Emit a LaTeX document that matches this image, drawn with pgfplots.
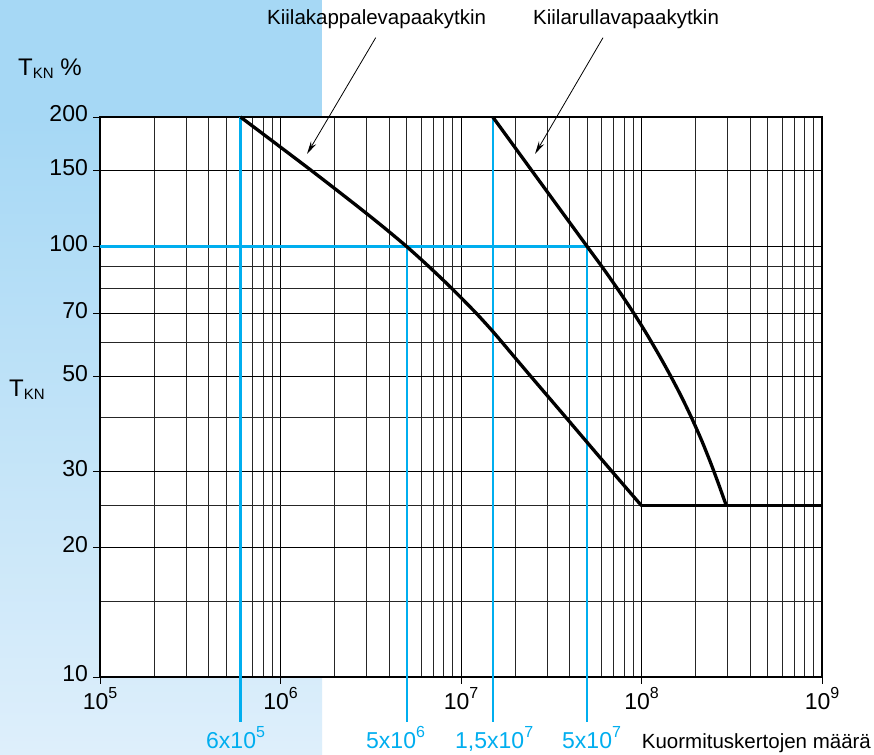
\documentclass[border=0pt]{standalone}
\usepackage{pgfplots}
\pgfplotsset{compat=1.18}
\usepackage{fontspec}
\setmainfont{Liberation Sans}
\usetikzlibrary{arrows.meta}
\definecolor{cyanline}{RGB}{0,174,239}
\definecolor{paneltop}{RGB}{166,216,245}
\definecolor{panelbot}{RGB}{222,239,251}
\newcommand{\sps}[1]{\raisebox{11pt}{\fontsize{16}{16}\selectfont #1}}
\newcommand{\lab}{\fontsize{23}{27}\selectfont}
\newcommand{\ann}{\fontsize{20.5}{24}\selectfont}
\begin{document}
\begin{tikzpicture}[x=1pt,y=1pt]
\path[use as bounding box] (0,0) rectangle (874,754);
\fill[white] (0,0) rectangle (874,754);
\fill[paneltop] (0,637) rectangle (322,754);
\shade[top color=paneltop, bottom color=panelbot] (0,0) rectangle (322,637.5);
\begin{axis}[
  at={(100pt,77pt)}, anchor=south west,
  scale only axis, width=722pt, height=560pt,
  xmode=log, ymode=log,
  xmin=1e5, xmax=1e9, ymin=10, ymax=200,
  axis background/.style={fill=white},
  clip=false,
  xtick={1e5,1e6,1e7,1e8,1e9},
  xticklabels={10\sps{5},10\sps{6},10\sps{7},10\sps{8},10\sps{9}},
  minor xtick={2e5,3e5,4e5,5e5,6e5,7e5,8e5,9e5,
               2e6,3e6,4e6,5e6,6e6,7e6,8e6,9e6,
               2e7,3e7,4e7,5e7,6e7,7e7,8e7,9e7,
               2e8,3e8,4e8,5e8,6e8,7e8,8e8,9e8},
  ytick={10,20,30,50,70,100,150,200},
  yticklabels={10,20,30,50,70,100,150,200},
  minor ytick={15,25,40,60,80,90},
  grid=both,
  major grid style={black, line width=0.9pt},
  minor grid style={black!85, line width=0.9pt},
  tick pos=left,
  tick align=outside,
  major tick length=7pt,
  minor tick length=0pt,
  tick style={black, line width=0.9pt},
  axis line style={black, line width=1.1pt},
  tick label style={font=\lab, text=black},
  xticklabel style={anchor=north, inner sep=0pt, yshift=-3pt},
  yticklabel style={anchor=east, inner sep=0pt, xshift=-5pt, yshift=3pt},
]
% blue guide lines
\addplot[cyanline, line width=2.2pt] coordinates {(1e5,100) (5e7,100)};
\addplot[cyanline, line width=2.2pt] coordinates {(6e5,200) (6e5,7.86)};
\addplot[cyanline, line width=2.2pt] coordinates {(5e6,100) (5e6,7.86)};
\addplot[cyanline, line width=2.2pt] coordinates {(1.5e7,200) (1.5e7,7.86)};
\addplot[cyanline, line width=2.2pt] coordinates {(5e7,100) (5e7,7.86)};
% Kiilakappalevapaakytkin
\addplot[black, line width=3.3pt, smooth, line join=round] coordinates {
  (6e5,200) (8.71e5,177.8) (1.488e6,150) (2.55e6,125.9) (3.6e6,112.2) (5e6,100)
  (6.78e6,89.1) (9.04e6,79.4) (1.214e7,70) (1.52e7,63.1) (1.92e7,56.2) (2.43e7,50)
  (3.87e7,39.8) (6.18e7,31.6) (1e8,25)};
% Kiilarullavapaakytkin
\addplot[black, line width=3.3pt, smooth, line join=round] coordinates {
  (1.5e7,200) (2.47e7,150) (5e7,100) (6.12e7,89.1) (7.42e7,79.4) (9.06e7,70)
  (1.057e8,63.1) (1.243e8,56.2) (1.451e8,50) (1.668e8,44.7) (1.894e8,40)
  (2.15e8,35.5) (2.404e8,31.6) (2.662e8,28.2) (2.95e8,25)};
\addplot[black, line width=3.3pt] coordinates {(1e8,25) (1e9,25)};
\end{axis}
% annotations
\node[anchor=base west, inner sep=0pt, font=\ann] at (267,729) {Kiilakappalevapaakytkin};
\node[anchor=base west, inner sep=0pt, font=\ann] at (533,729) {Kiilarullavapaakytkin};
\draw[line width=0.8pt, -{Stealth[length=13pt,width=6pt]}] (375.7,716.3) -- (307,600);
\draw[line width=0.8pt, -{Stealth[length=13pt,width=6pt]}] (603,716.3) -- (535,600);
\node[anchor=base west, inner sep=0pt, font=\ann] at (641.7,6) {Kuormituskertojen määrä};
% axis titles
\node[anchor=base west, inner sep=0pt, font=\fontsize{24}{28}\selectfont] at (18,678)
  {T\raisebox{-2.5pt}{\fontsize{15}{16}\selectfont KN} \%};
\node[anchor=base west, inner sep=0pt, font=\fontsize{24}{28}\selectfont] at (9,357)
  {T\raisebox{-2.5pt}{\fontsize{15}{16}\selectfont KN}};
% blue labels
\node[anchor=base west, inner sep=0pt, font=\lab, text=cyanline] at (206,6) {6x10\sps{5}};
\node[anchor=base west, inner sep=0pt, font=\lab, text=cyanline] at (366,6) {5x10\sps{6}};
\node[anchor=base west, inner sep=0pt, font=\lab, text=cyanline] at (455,6) {1,5x10\sps{7}};
\node[anchor=base west, inner sep=0pt, font=\lab, text=cyanline] at (562,6) {5x10\sps{7}};
\end{tikzpicture}
\end{document}
